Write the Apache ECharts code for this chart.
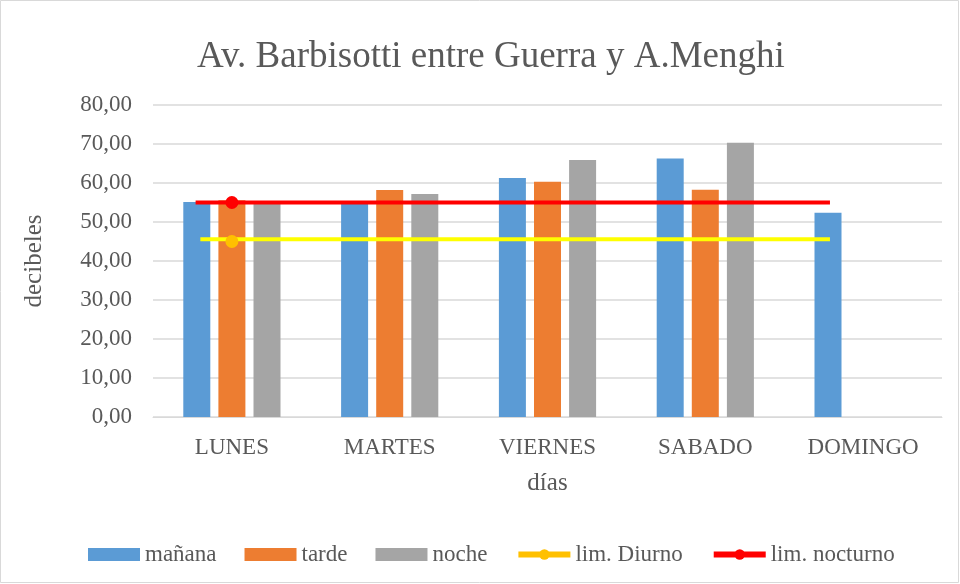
<!DOCTYPE html>
<html>
<head>
<meta charset="utf-8">
<script src="https://cdn.jsdelivr.net/npm/echarts@6/dist/echarts.min.js"></script>
<style>
  html, body { margin: 0; padding: 0; background: #fff; }
  #chart { width: 960px; height: 584px; }
</style>
</head>
<body>
<div id="chart"></div>
<script>
  // datos
  let dias = ['LUNES', 'MARTES', 'VIERNES', 'SABADO', 'DOMINGO'];
  let manana = [55.1, 54.8, 61.3, 66.3, 52.4];
  let tarde = [55.6, 58.2, 60.3, 58.3, null];
  let noche = [54.8, 57.2, 65.9, 70.3, null];
  let limDiurno = [45, null, null, null, null];
  let limNocturno = [55, null, null, null, null];
  // líneas de límite dibujadas sobre el gráfico (x en unidades de categoría)
  let lineaDiurna = [[0.3, 45.6], [4.29, 45.6]];
  let lineaNocturna = [[0.27, 55], [4.29, 55]];

  let fuente = '"Liberation Serif", "Times New Roman", serif';
  let gris = '#595959';

  let chart = echarts.init(document.getElementById('chart'));

  let option = {
    backgroundColor: '#fff',
    textStyle: { fontFamily: fuente },
    title: {
      text: 'Av. Barbisotti entre Guerra y A.Menghi',
      left: 192,
      top: 34,
      textStyle: { fontFamily: fuente, fontSize: 37, fontWeight: 'normal', color: gris }
    },
    graphic: [{
      type: 'rect',
      shape: { x: 0.5, y: 0.5, width: 958, height: 582 },
      style: { fill: 'none', stroke: '#d9d9d9', lineWidth: 1 },
      silent: true
    }],
    legend: {
      top: 538,
      left: 83,
      itemGap: 28,
      itemWidth: 52,
      itemHeight: 13,
      textStyle: { fontFamily: fuente, fontSize: 23, color: gris },
      data: [
        { name: 'mañana', icon: 'rect' },
        { name: 'tarde', icon: 'rect' },
        { name: 'noche', icon: 'rect' },
        { name: 'lim. Diurno', lineStyle: { width: 6 } },
        { name: 'lim. nocturno', lineStyle: { width: 6 } }
      ]
    },
    grid: { left: 153, right: 18, top: 105, bottom: 167 },
    xAxis: [{
      type: 'category',
      data: dias,
      name: 'días',
      nameLocation: 'middle',
      nameGap: 54,
      nameTextStyle: { fontFamily: fuente, fontSize: 25, color: gris },
      axisLine: { lineStyle: { color: '#d9d9d9' } },
      axisTick: { show: false },
      axisLabel: { fontFamily: fuente, fontSize: 23, color: gris, margin: 19 }
    }, {
      type: 'value',
      min: 0,
      max: 5,
      show: false
    }],
    yAxis: {
      type: 'value',
      min: 0,
      max: 80,
      interval: 10,
      name: 'decibeles',
      nameLocation: 'middle',
      nameGap: 106,
      nameTextStyle: { fontFamily: fuente, fontSize: 25, color: gris },
      axisLine: { show: false },
      axisTick: { show: false },
      axisLabel: {
        fontFamily: fuente, fontSize: 23, color: gris, margin: 21,
        formatter: function (v) { return v.toFixed(2).replace('.', ','); }
      },
      splitLine: { lineStyle: { color: '#d9d9d9', width: 1.5 } }
    },
    series: [
      {
        name: 'mañana', type: 'bar', data: manana,
        barWidth: 27, barGap: '30%',
        itemStyle: { color: '#5B9BD5' }
      },
      {
        name: 'tarde', type: 'bar', data: tarde,
        barWidth: 27, barGap: '30%',
        itemStyle: { color: '#ED7D31' }
      },
      {
        name: 'noche', type: 'bar', data: noche,
        barWidth: 27, barGap: '30%',
        itemStyle: { color: '#A5A5A5' }
      },
      {
        // líneas horizontales de límite
        name: 'linea diurna', type: 'line', xAxisIndex: 1, data: lineaDiurna,
        symbol: 'none', lineStyle: { color: '#FFFF00', width: 4 }, z: 3, silent: true
      },
      {
        name: 'linea nocturna', type: 'line', xAxisIndex: 1, data: lineaNocturna,
        symbol: 'none', lineStyle: { color: '#FF0000', width: 4 }, z: 3, silent: true
      },
      {
        name: 'lim. Diurno', type: 'line', data: limDiurno,
        symbol: 'circle', symbolSize: 13,
        itemStyle: { color: '#FFC000' },
        lineStyle: { color: '#FFC000', width: 5 }, z: 4
      },
      {
        name: 'lim. nocturno', type: 'line', data: limNocturno,
        symbol: 'circle', symbolSize: 13,
        itemStyle: { color: '#FF0000' },
        lineStyle: { color: '#FF0000', width: 5 }, z: 4
      }
    ]
  };

  chart.setOption(option);
</script>
</body>
</html>
